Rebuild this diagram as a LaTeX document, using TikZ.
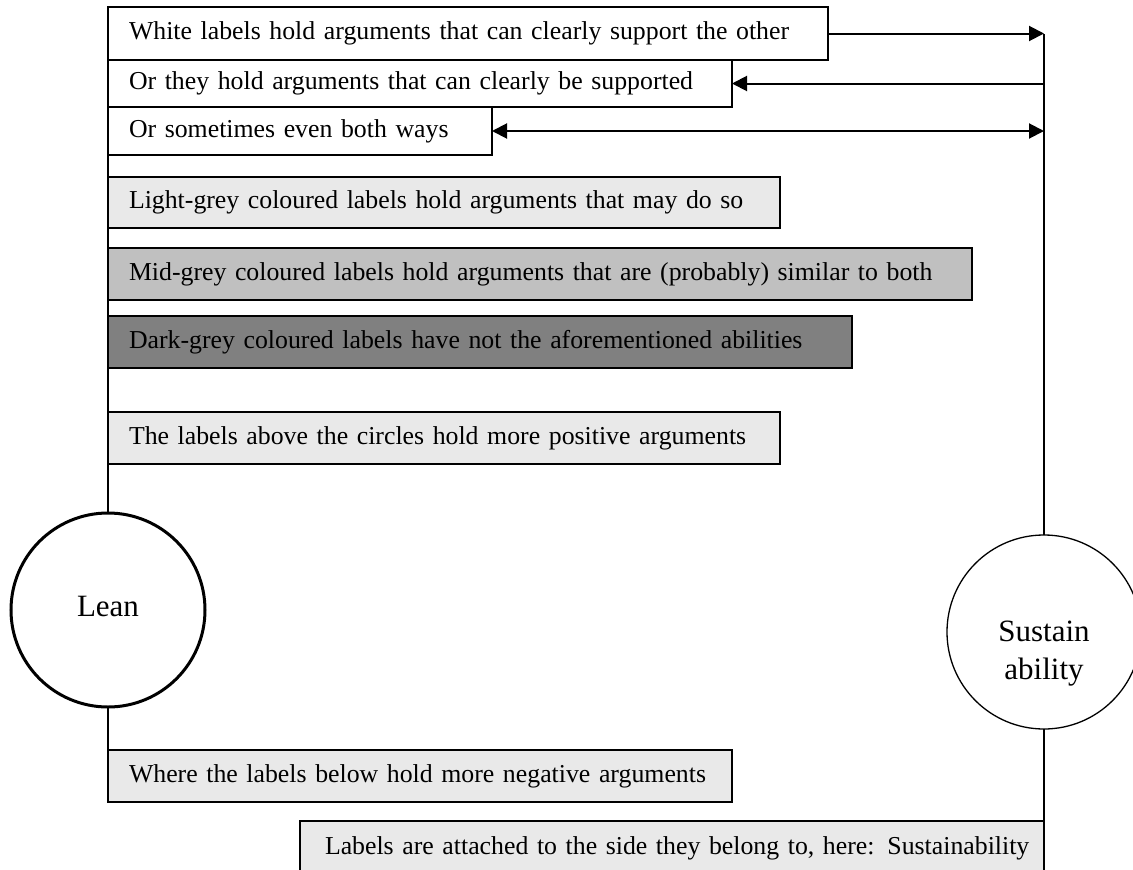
\documentclass[tikz,border=0pt]{standalone}
\usepackage{fontspec}
\setmainfont{Liberation Serif}
\usetikzlibrary{arrows.meta}

\definecolor{lightgreybox}{RGB}{233,233,233}
\definecolor{midgreybox}{RGB}{192,192,192}
\definecolor{darkgreybox}{RGB}{128,128,128}

\tikzset{
  lbl/.style={draw=black, line width=1.2pt, anchor=north west, align=left,
    inner xsep=21pt, inner ysep=0pt, outer sep=0pt,
    font=\fontsize{25.8pt}{31pt}\selectfont},
  circ/.style={draw=black, circle, minimum size=194pt, inner sep=0pt, outer sep=0pt},
  ctext/.style={align=center, inner sep=0pt,
    font=\fontsize{31pt}{38pt}\selectfont},
  conn/.style={draw=black, line width=1.3pt},
  arr/.style={draw=black, line width=2pt, -{Triangle[length=15pt,width=15pt]}},
  dblarr/.style={draw=black, line width=2pt,
    {Triangle[length=15pt,width=15pt]}-{Triangle[length=15pt,width=15pt]}},
}

\begin{document}
\begin{tikzpicture}[x=1pt, y=-1pt]
  \useasboundingbox (0,0) rectangle (1133,870);
  \clip (0,0) rectangle (1133,870);

  % the two sides
  \node[circ, line width=3pt] (L) at (108,610) {};
  \node[ctext] (Lt) at (108,606) {Lean};
  \node[circ, line width=1.3pt] (S) at (1044,632) {};
  \node[ctext] (St) at (1044,654) {Sustain\\ability};

  % spine line behind the Lean labels
  \coordinate (ltop) at (108,7);
  \draw[conn] (ltop) -- (L.north);

  % labels attached to Lean
  \node[lbl, fill=white, text width=678pt, minimum height=53pt] (b1) at (108,7)
    {\mbox{White labels hold arguments that can clearly support the other}};
  \node[lbl, fill=white, text width=582pt, minimum height=47pt] (b2) at (108,60)
    {\mbox{Or they hold arguments that can clearly be supported}};
  \node[lbl, fill=white, text width=342pt, minimum height=48pt] (b3) at (108,107)
    {\mbox{Or sometimes even both ways}};
  \node[lbl, fill=lightgreybox, text width=630pt, minimum height=51pt] (b4) at (108,177)
    {\mbox{Light-grey coloured labels hold arguments that may do so}};
  \node[lbl, fill=midgreybox, text width=822pt, minimum height=52pt] (b5) at (108,248)
    {\mbox{Mid-grey coloured labels hold arguments that are (probably) similar to both}};
  \node[lbl, fill=darkgreybox, text width=702pt, minimum height=52pt] (b6) at (108,316)
    {\mbox{Dark-grey coloured labels have not the aforementioned abilities}};
  \node[lbl, fill=lightgreybox, text width=630pt, minimum height=52pt] (b7) at (108,412)
    {\mbox{The labels above the circles hold more positive arguments}};
  \node[lbl, fill=lightgreybox, text width=582pt, minimum height=52pt] (b8) at (108,750)
    {\mbox{Where the labels below hold more negative arguments}};

  % label attached to Sustainability
  \node[lbl, fill=lightgreybox, text width=694pt, minimum height=54pt, inner xsep=25pt] (b9) at (300,821)
    {\mbox{Labels are attached to the side they belong to, here: Sustainability}};

  % connectors
  \draw[conn] (L.south) -- (b8.north west);
  \draw[conn] (S.north) -- (S.north |- b1.east);
  \draw[conn] (S.south) -- (b9.north east);
  \draw[conn] (b9.north east) -- (b9.south east);

  % support arrows
  \draw[arr] (b1.east) -- (b1.east -| S.north);
  \draw[arr] (b2.east -| S.north) -- (b2.east);
  \draw[dblarr] (b3.east) -- (b3.east -| S.north);
\end{tikzpicture}
\end{document}
